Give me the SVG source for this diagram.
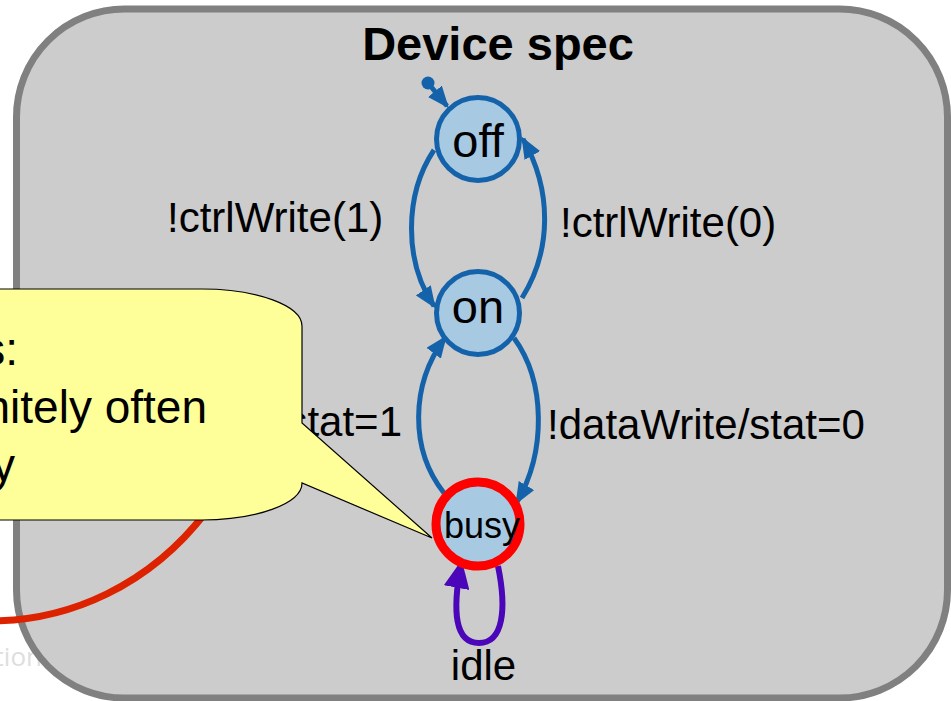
<svg xmlns="http://www.w3.org/2000/svg" width="951" height="701" viewBox="0 0 951 701">
  <style>
    text { font-family: "Liberation Sans", Arial, sans-serif; fill: #000; }
    .state circle { fill: #a7c9e2; stroke: #1463aa; stroke-width: 5; }
    .state text { text-anchor: middle; font-size: 47px; }
    .edge { fill: none; stroke: #1463aa; stroke-width: 5; marker-end: url(#arrow); }
    .lbl { font-size: 42px; }
  </style>
  <defs>
    <marker id="arrow" markerUnits="userSpaceOnUse" markerWidth="22" markerHeight="18" viewBox="0 0 22 18" refX="19" refY="9" orient="auto">
      <path d="M0,0 L22,9 L0,18 z" fill="#1463aa"/>
    </marker>
    <marker id="arrowLoop" markerUnits="userSpaceOnUse" markerWidth="28" markerHeight="26" viewBox="0 0 28 26" refX="24" refY="13" orient="auto">
      <path d="M0,0 L28,13 L0,26 z" fill="#4a06b8"/>
    </marker>
  </defs>

  <rect width="951" height="701" fill="#ffffff"/>

  <!-- faded footer fragment -->
  <text x="42" y="666" text-anchor="end" style="font-family: 'Open Sans', 'Noto Sans', sans-serif; font-size: 26px; fill: #dedede;">tion</text>

  <!-- device frame -->
  <g id="frame">
    <rect x="16.5" y="9" width="931" height="689" rx="108" ry="108" fill="#cccccc" stroke="#808080" stroke-width="7"/>
    <text x="498" y="60" text-anchor="middle" style="font-size: 47px; font-weight: bold;">Device spec</text>
  </g>

  <!-- transitions -->
  <g id="connectors">
    <circle cx="428" cy="83" r="6.5" fill="#1463aa"/>
    <path class="edge" d="M428,83 L447,106"/>
    <path class="edge" d="M434,150 C404,195 404,262 434,306"/>
    <path class="edge" d="M522,298 C552,250 552,190 523,139"/>
    <path class="edge" d="M514,338 C546,382 546,452 517,502"/>
    <path class="edge" d="M444,493 C410,450 410,385 445,338"/>
    <path d="M498,566 C507,610 503,643 479,643 C455,643 452,612 461,564" fill="none" stroke="#4a06b8" stroke-width="6" marker-end="url(#arrowLoop)"/>
  </g>

  <!-- transition labels -->
  <g id="labels">
    <text class="lbl" x="167" y="232">!ctrlWrite(1)</text>
    <text class="lbl" x="560" y="237">!ctrlWrite(0)</text>
    <text class="lbl" x="547" y="439">!dataWrite/stat=0</text>
    <text class="lbl" x="402" y="436" text-anchor="end">stat=1</text>
    <text class="lbl" x="483.5" y="680" text-anchor="middle">idle</text>
  </g>

  <!-- states -->
  <g id="off" class="state">
    <circle cx="478" cy="139" r="41.5"/>
    <text x="478" y="157">off</text>
  </g>
  <g id="on" class="state">
    <circle cx="478" cy="313" r="41.5"/>
    <text x="478" y="323">on</text>
  </g>
  <g id="busy" class="state">
    <circle cx="478" cy="524" r="42" style="stroke: #ff0000; stroke-width: 9;"/>
    <text x="482" y="538" style="font-size: 36px;">busy</text>
  </g>

  <!-- highlight stroke -->
  <path d="M-10,621 C70,621 150,585 206,512 L240,470" fill="none" stroke="#dd2200" stroke-width="7"/>

  <!-- callout -->
  <g id="callout">
    <path d="M-5,289 L202,289 A100,37 0 0 1 302,326 L302,423 L432,538 L302,483 A100,37 0 0 1 202,520 L-5,520 Z" fill="#ffff99" stroke="#000000" stroke-width="1.2"/>
    <text x="18" y="365" text-anchor="end" style="font-size: 46px;">s:</text>
    <text x="207" y="423" text-anchor="end" style="font-size: 46px;">nitely often</text>
    <text x="15" y="481" text-anchor="end" style="font-size: 46px;">y</text>
  </g>
</svg>
